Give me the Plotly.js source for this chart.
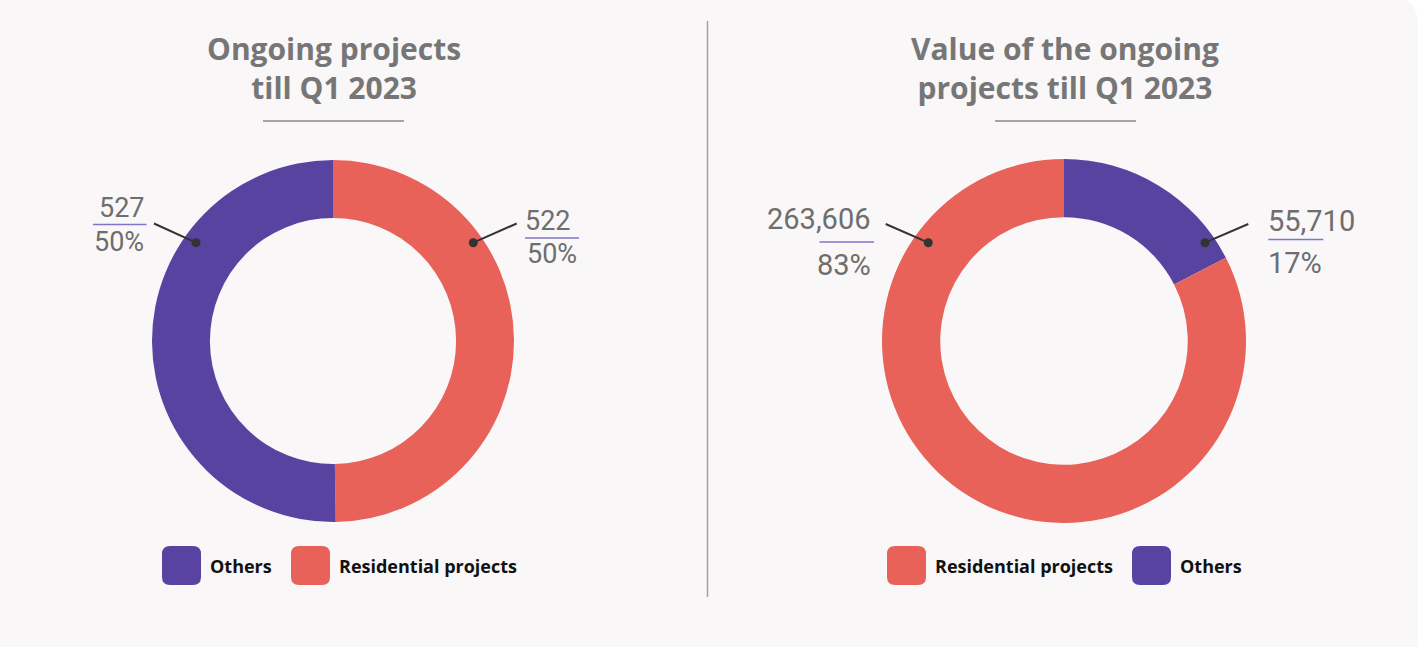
<!DOCTYPE html>
<html>
<head>
<meta charset="utf-8">
<script src="https://cdn.plot.ly/plotly-3.0.1.min.js"></script>
<style>
html,body{margin:0;padding:0;background:#ffffff;}
#chart{width:1418px;height:647px;}
</style>
</head>
<body>
<div id="chart"></div>
<script>
// ---- data ----
const leftTitle = ["Ongoing projects", "till Q1 2023"];
const leftLabels = ["Residential projects", "Others"];
const leftValues = [522, 527];
const leftColors = ["#E8625A", "#5844A0"];
const leftLegendOrder = [1, 0];

const rightTitle = ["Value of the ongoing", "projects till Q1 2023"];
const rightLabels = ["Others", "Residential projects"];
const rightValues = [55710, 263606];
const rightColors = ["#5844A0", "#E8625A"];
const rightLegendOrder = [1, 0];

// ---- layout helpers ----
const W = 1418, H = 647;
const px = x => x / W;
const py = y => 1 - y / H;
const fmt = v => v.toLocaleString('en-US');
const pct = (vals, i) => Math.round(vals[i] / vals.reduce((a, b) => a + b, 0) * 100) + '%';

const bg = '#F9F7F8';
const textGray = '#6E6E6E';
const titleGray = '#767676';
const ulColor = '#8174C6';

const traces = [
  {
    type: 'pie', labels: leftLabels, values: leftValues, sort: false,
    direction: 'clockwise', rotation: 0, hole: 0.68,
    marker: {colors: leftColors, line: {width: 0}},
    textinfo: 'none', hoverinfo: 'label+value+percent', showlegend: false,
    domain: {x: [px(333 - 181), px(333 + 181)], y: [py(341 + 181), py(341 - 181)]}
  },
  {
    type: 'pie', labels: rightLabels, values: rightValues, sort: false,
    direction: 'clockwise', rotation: 0, hole: 0.68,
    marker: {colors: rightColors, line: {width: 0}},
    textinfo: 'none', hoverinfo: 'label+value+percent', showlegend: false,
    domain: {x: [px(1064 - 182), px(1064 + 182)], y: [py(341 + 182), py(341 - 182)]}
  }
];

const annotations = [];
const shapes = [];

function ann(text, x, y, opts) {
  annotations.push(Object.assign({
    text: text, x: px(x), y: py(y), xref: 'paper', yref: 'paper',
    showarrow: false, xanchor: 'center', yanchor: 'middle',
    font: {family: 'Roboto, sans-serif', size: 27, color: textGray}
  }, opts || {}));
}
function line(x0, y0, x1, y1, color, width) {
  shapes.push({type: 'line', xref: 'paper', yref: 'paper',
    x0: px(x0), y0: py(y0), x1: px(x1), y1: py(y1),
    line: {color: color, width: width}});
}
function dot(x, y, r) {
  shapes.push({type: 'circle', xref: 'paper', yref: 'paper',
    x0: px(x - r), x1: px(x + r), y0: py(y + r), y1: py(y - r),
    fillcolor: '#333333', line: {width: 0}});
}
function roundRect(x, y, w, h, r, color) {
  const X = v => px(v), Y = v => py(v);
  const p = `M ${X(x + r)} ${Y(y)} L ${X(x + w - r)} ${Y(y)} Q ${X(x + w)} ${Y(y)} ${X(x + w)} ${Y(y + r)}` +
    ` L ${X(x + w)} ${Y(y + h - r)} Q ${X(x + w)} ${Y(y + h)} ${X(x + w - r)} ${Y(y + h)}` +
    ` L ${X(x + r)} ${Y(y + h)} Q ${X(x)} ${Y(y + h)} ${X(x)} ${Y(y + h - r)}` +
    ` L ${X(x)} ${Y(y + r)} Q ${X(x)} ${Y(y)} ${X(x + r)} ${Y(y)} Z`;
  shapes.push({type: 'path', xref: 'paper', yref: 'paper', path: p, fillcolor: color, line: {width: 0}});
}

// background corner (top-right rounded)
shapes.push({type: 'path', xref: 'paper', yref: 'paper', layer: 'below',
  path: `M ${px(1404)} ${py(0)} L ${px(1418)} ${py(0)} L ${px(1418)} ${py(22)} Q ${px(1416)} ${py(3)} ${px(1404)} ${py(0)} Z`,
  fillcolor: '#FFFFFF', line: {width: 0}});

// titles
const titleFont = {family: '"Open Sans", sans-serif', size: 30, color: titleGray, weight: 700};
ann(leftTitle.join('<br>'), 334, 68, {font: titleFont});
ann(rightTitle.join('<br>'), 1065, 68, {font: titleFont});
line(263, 121, 404, 121, '#8A8A8A', 1.3);
line(995, 121, 1136, 121, '#8A8A8A', 1.3);

// separator
line(707.5, 21, 707.5, 597, '#A3A3A3', 1.5);

// left pie labels (Others on the left, Residential on the right)
ann(fmt(leftValues[1]), 122, 208);
line(93, 224.5, 146.5, 224.5, ulColor, 1.3);
ann(pct(leftValues, 1), 119.5, 242);
line(154, 223.5, 196, 242.7, '#333333', 2);
dot(196, 242.7, 4.5);

ann(fmt(leftValues[0]), 548, 221);
line(525, 238, 579, 238, ulColor, 1.3);
ann(pct(leftValues, 0), 552, 254);
line(516.7, 223.5, 473.3, 242.7, '#333333', 2);
dot(473.3, 242.7, 4.5);

// right pie labels (Residential on the left, Others on the right)
const rFont = {family: 'Roboto, sans-serif', size: 29, color: textGray};
ann(fmt(rightValues[1]), 873, 219, {xanchor: 'right', font: rFont});
line(819.5, 242, 874, 242, ulColor, 1.3);
ann(pct(rightValues, 1), 873, 265, {xanchor: 'right', font: rFont});
line(885.7, 224, 928.3, 242.7, '#333333', 2);
dot(928.3, 242.7, 4.5);

ann(fmt(rightValues[0]), 1266, 221, {xanchor: 'left', font: rFont});
line(1268.3, 239.5, 1323.3, 239.5, ulColor, 1.3);
ann(pct(rightValues, 0), 1266, 263, {xanchor: 'left', font: rFont});
line(1248.3, 224, 1205, 242.7, '#333333', 2);
dot(1205, 242.7, 4.5);

// legends
const legFont = {family: '"Open Sans", sans-serif', size: 18, color: '#111111', weight: 700};
const legY = 566;
function legendItem(x, label, color) {
  roundRect(x, 546, 39, 39, 8, color);
  ann(label, x + 46, legY, {xanchor: 'left', font: legFont});
}
legendItem(162, leftLabels[leftLegendOrder[0]], leftColors[leftLegendOrder[0]]);
legendItem(291, leftLabels[leftLegendOrder[1]], leftColors[leftLegendOrder[1]]);
legendItem(887, rightLabels[rightLegendOrder[0]], rightColors[rightLegendOrder[0]]);
legendItem(1132, rightLabels[rightLegendOrder[1]], rightColors[rightLegendOrder[1]]);

const layout = {
  width: W, height: H,
  margin: {l: 0, r: 0, t: 0, b: 0},
  paper_bgcolor: bg, plot_bgcolor: bg,
  showlegend: false,
  annotations: annotations,
  shapes: shapes
};

Plotly.newPlot('chart', traces, layout, {displayModeBar: false, staticPlot: true});
</script>
</body>
</html>
